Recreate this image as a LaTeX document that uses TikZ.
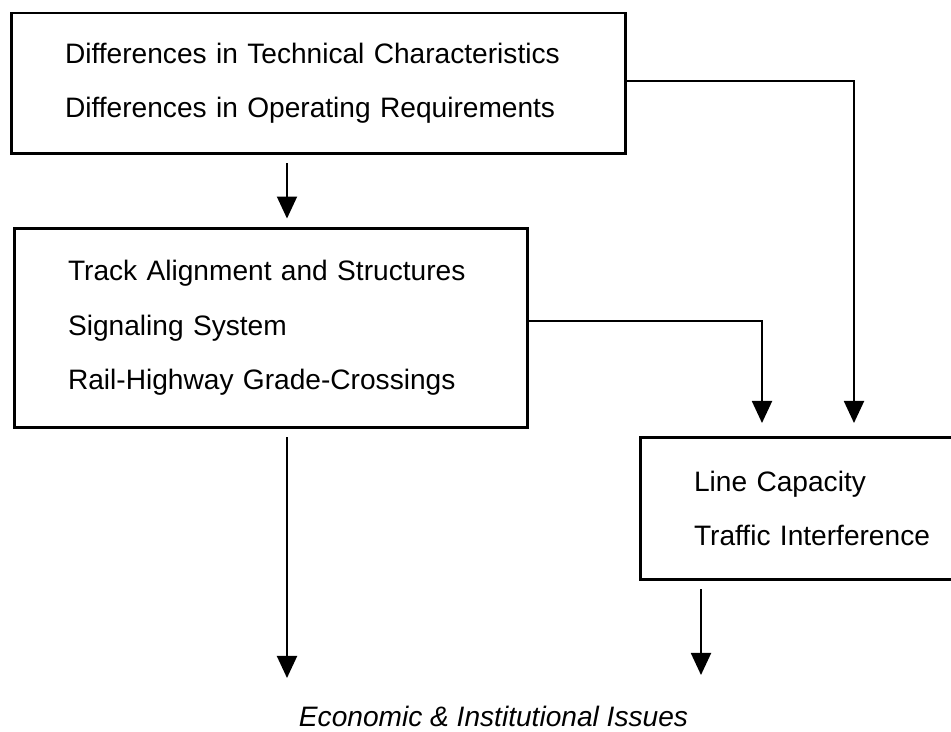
\documentclass[tikz,border=0pt]{standalone}
\usepackage{fontspec}
\setmainfont{Liberation Sans}
\usetikzlibrary{positioning}
\usetikzlibrary{arrows.meta}
\tikzset{
    boxn/.style = {rectangle, draw=black, line width=1.7pt, inner xsep=1.08cm, inner ysep=0pt, align=left, font=\fontsize{16}{31}\selectfont},
    edgen/.style = {-{Triangle[length=0.44cm,width=0.4cm]}, line width=1.1pt},
    issue/.style = {font=\fontsize{16}{18}\selectfont\itshape}
}

\begin{document}
\begin{tikzpicture}[x=0.02cm, y=-0.02cm]
\useasboundingbox (0,0) rectangle (951,732);
%
\node[boxn, text width=10.14cm, minimum height=2.82cm] at (318.5, 83.5) (diff) {Differences in Technical Characteristics\\Differences in Operating Requirements};
\node[boxn, text width=8.12cm, minimum height=4cm] at (271, 328) (track) {Track Alignment and Structures\\Signaling System\\Rail-Highway Grade-Crossings};
\node[boxn, text width=5.04cm, minimum height=2.86cm] at (820, 508.5) (line) {Line Capacity\\Traffic Interference};
\node[issue, anchor=base] at (493.5, 727) (econ) {Economic \& Institutional Issues};
%
\coordinate (xa) at (287, 0);
\coordinate (in1) at (854, 423);
\coordinate (in2) at (762, 423);
\coordinate (out1) at (287, 678);
\coordinate (out2) at (701, 675);
%
\draw[edgen, shorten <=0.16cm, shorten >=0.16cm] (diff.south -| xa) -- (track.north -| xa);
\draw[edgen] ([yshift=0.05cm]diff.east) -| (in1);
\draw[edgen] ([yshift=0.14cm]track.east) -| (in2);
\draw[edgen, shorten <=0.16cm] (track.south -| out1) -- (out1);
\draw[edgen, shorten <=0.16cm] (line.south -| out2) -- (out2);

\end{tikzpicture}
\end{document}
